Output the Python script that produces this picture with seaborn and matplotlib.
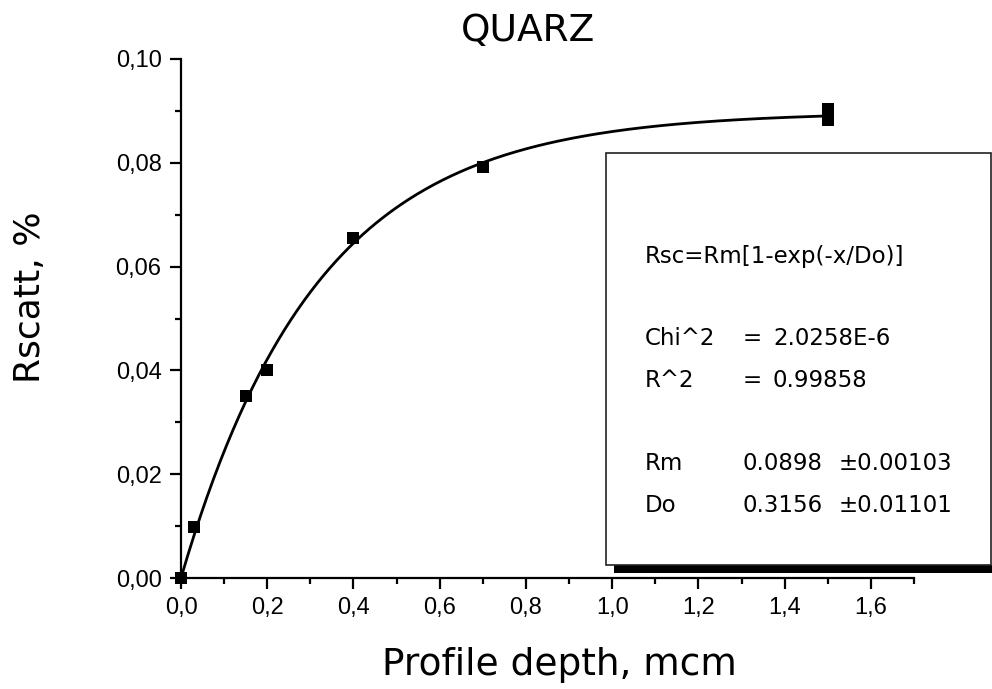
import numpy as np
import pandas as pd
import matplotlib
matplotlib.use("Agg")
import matplotlib.pyplot as plt
from matplotlib.patches import Rectangle
from matplotlib.ticker import FixedLocator, MultipleLocator
import seaborn as sns

# Measured scattering vs. profile depth
depth = [0.0, 0.03, 0.15, 0.20, 0.40, 0.70, 1.50, 1.50]
rscatt = [0.0, 0.0098, 0.0350, 0.0400, 0.0656, 0.0792, 0.0903, 0.0883]

# Fit parameters of Rsc = Rm[1 - exp(-x/Do)]
rm_fit, rm_err = 0.0898, 0.00103
do_fit, do_err = 0.3156, 0.01101
chi2_text = "2.0258E-6"
r2_text = "0.99858"

x_ticks = [0.0, 0.2, 0.4, 0.6, 0.8, 1.0, 1.2, 1.4, 1.6]
x_tick_labels = ["0,0", "0,2", "0,4", "0,6", "0,8", "1,0", "1,2", "1,4", "1,6"]
y_ticks = [0.00, 0.02, 0.04, 0.06, 0.08, 0.10]
y_tick_labels = ["0,00", "0,02", "0,04", "0,06", "0,08", "0,10"]

sns.set_style("ticks")
plt.rcParams["font.family"] = ["Liberation Sans", "DejaVu Sans"]
plt.rcParams["text.color"] = "black"
WIDE = ["DejaVu Sans"]

W, H = 992, 689
fig = plt.figure(figsize=(W / 100, H / 100), dpi=100)
ax = fig.add_axes([181 / W, 1 - 578 / H, (914 - 181) / W, (578 - 59) / H])

points = pd.DataFrame({"depth": depth, "rscatt": rscatt})
xs = np.linspace(0.0, 1.5, 300)
curve = pd.DataFrame({"depth": xs, "rscatt": rm_fit * (1 - np.exp(-xs / do_fit))})

sns.lineplot(data=curve, x="depth", y="rscatt", ax=ax, color="black",
             linewidth=2.0, zorder=3)
sns.scatterplot(data=points, x="depth", y="rscatt", ax=ax, marker="s",
                s=64, color="black", linewidth=0, zorder=4, clip_on=False)

ax.set_xlim(0, 1.7)
ax.set_ylim(0, 0.10)
ax.xaxis.set_major_locator(FixedLocator(x_ticks))
ax.set_xticklabels(x_tick_labels)
ax.xaxis.set_minor_locator(MultipleLocator(0.1))
ax.yaxis.set_major_locator(FixedLocator(y_ticks))
ax.set_yticklabels(y_tick_labels)
ax.yaxis.set_minor_locator(MultipleLocator(0.01))

sns.despine(ax=ax)
for side in ("left", "bottom"):
    ax.spines[side].set_linewidth(1.6)
    ax.spines[side].set_color("black")
ax.tick_params(which="major", direction="out", length=8, width=1.6,
               labelsize=17, pad=6, colors="black")
ax.tick_params(which="minor", direction="out", length=4.5, width=1.6,
               colors="black")

ax.set_xlabel("")
ax.set_ylabel("")
fig.text(559 / W, 1 - 665 / H, "Profile depth, mcm", fontsize=27,
         family=WIDE, ha="center", va="center")
fig.text(30 / W, 1 - 297 / H, "Rscatt, %", fontsize=26, rotation=90,
         family=WIDE, ha="center", va="center")
fig.text(528 / W, 1 - 31 / H, "QUARZ", fontsize=27, family=WIDE,
         ha="center", va="center")

# Fit results box with drop shadow
fig.patches.append(Rectangle((614 / W, 1 - 573 / H), (W - 614 + 20) / W, 8 / H,
                             transform=fig.transFigure, facecolor="black",
                             edgecolor="none", zorder=5))
fig.patches.append(Rectangle((606 / W, 1 - 565 / H), (991 - 606) / W, (565 - 153) / H,
                             transform=fig.transFigure, facecolor="white",
                             edgecolor="#222222", linewidth=1.2, zorder=6))

fs = 16.5
def put(xp, yp, s):
    fig.text(xp / W, 1 - yp / H, s, fontsize=fs, family=WIDE,
             ha="left", va="baseline", zorder=7)

put(645, 263, "Rsc=Rm[1-exp(-x/Do)]")
put(645, 345, "Chi^2")
put(743, 345, "=")
put(773, 345, chi2_text)
put(645, 387, "R^2")
put(743, 387, "=")
put(773, 387, r2_text)
put(645, 470, "Rm")
put(742, 470, f"{rm_fit:.4f}")
put(839, 470, f"\u00b1{rm_err:.5f}")
put(645, 512, "Do")
put(742, 512, f"{do_fit:.4f}")
put(839, 512, f"\u00b1{do_err:.5f}")

fig.savefig("out.png", dpi=100)
